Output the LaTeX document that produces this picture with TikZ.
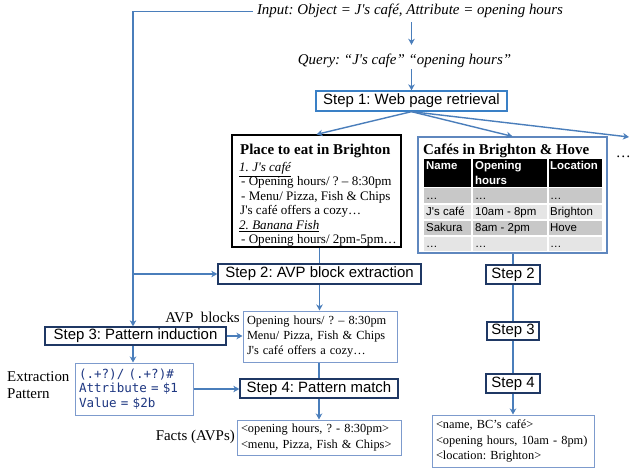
\documentclass[tikz,border=0pt]{standalone}
\usepackage{fontspec}
\setmainfont{Liberation Serif}
\setsansfont{Liberation Sans}
\setmonofont{DejaVu Sans Mono}
\usetikzlibrary{arrows.meta}
\definecolor{conn}{RGB}{74,126,187}
\definecolor{navy}{RGB}{31,56,100}
\definecolor{sblue}{RGB}{58,128,198}
\definecolor{lblue}{RGB}{125,155,205}
\definecolor{cblue}{RGB}{95,135,190}
\definecolor{monoc}{RGB}{31,56,130}
\definecolor{rowdark}{RGB}{200,200,200}
\definecolor{rowlight}{RGB}{229,229,229}
\newcommand{\fs}[2]{\fontsize{#1}{#2}\selectfont}
\begin{document}
\frenchspacing
\begin{tikzpicture}[x=1bp,y=-1bp,
  conn/.style={draw=conn, line width=1.4bp},
  arr/.style={conn, -{Stealth[length=6bp,width=6.5bp,inset=1.8bp]}},
  stepbox/.style={draw=navy, line width=1.3bp, fill=white, font=\sffamily\fs{15}{18}, inner sep=0, text height=10.8bp, text depth=3bp},
  lbox/.style={draw=lblue, line width=1bp, fill=white, align=left, inner xsep=4bp, inner ysep=0},
  txt/.style={inner sep=0, anchor=base west},
  hd/.style={txt, text=white, font=\sffamily\bfseries\fs{11.5}{12}},
  cell/.style={txt, font=\sffamily\fs{11.5}{12}},
  pl/.style={txt, font=\fs{13.1}{14}},
  lab/.style={inner sep=0, font=\fs{15}{15}}
]
\fill[white] (0,0) rectangle (631,468);
\useasboundingbox (0,0) rectangle (631,468);

% top texts
\node[inner sep=0, anchor=base, font=\itshape\fs{15}{15}, text height=11bp, text depth=4bp] (input) at (410,15) {Input: Object = J\textquotesingle s café, Attribute = opening hours};
\node[inner sep=0, anchor=base, font=\itshape\fs{15}{15}, text height=11bp, text depth=4bp] (query) at (404.5,65) {Query: “J\textquotesingle s cafe” “opening hours”};

% step boxes
\node[stepbox, draw=sblue, minimum width=191bp, minimum height=20bp] (s1) at (411.5,101) {Step 1: Web page retrieval};
\node[stepbox, minimum width=203bp, minimum height=20bp] (s2) at (319.5,274) {Step 2: AVP block extraction};
\node[stepbox, minimum width=181bp, minimum height=18bp] (s3) at (135.5,336) {Step 3: Pattern induction};
\node[stepbox, minimum width=158bp, minimum height=19bp] (s4) at (319,388.5) {Step 4: Pattern match};
\node[stepbox, minimum width=54bp, minimum height=19bp] (r2) at (513,274.5) {Step 2};
\node[stepbox, minimum width=52bp, minimum height=18bp] (r3) at (513,331) {Step 3};
\node[stepbox, minimum width=54bp, minimum height=19bp] (r4) at (513,383.5) {Step 4};

% Place box
\node[draw=black, line width=1.2bp, minimum width=169bp, minimum height=112bp, inner sep=0] (place) at (316.5,191) {};
\node[txt, font=\bfseries\fs{15}{15}] (pt) at (240,155) {Place to eat in Brighton};
\node[pl] (p1) at (239,172) {\underline{\textit{1. J\textquotesingle s café}}};
\node[pl] (p2) at (241,186) {- Opening hours/ ? – 8:30pm};
\node[pl] (p3) at (241,201) {- Menu/ Pizza, Fish \& Chips};
\node[pl] (p4) at (240,215) {J\textquotesingle s café offers a cozy…};
\node[pl] (p5) at (239,230) {\underline{\textit{2. Banana Fish}}};
\node[pl] (p6) at (241,244) {- Opening hours/ 2pm-5pm…};

% Cafes box
\node[draw=cblue, line width=1.2bp, minimum width=189bp, minimum height=116bp, inner sep=0] (cafes) at (512.5,195) {};
\node[txt, font=\bfseries\fs{15}{15}] (ct) at (423,155) {Cafés in Brighton \& Hove};
% table cells
\foreach \xa/\xb in {423/472,472/548,548/603}{
  \fill[black] (\xa+0.7,159) rectangle (\xb-0.7,187);
  \fill[rowdark] (\xa+0.7,188.2) rectangle (\xb-0.7,203.3);
  \fill[rowlight] (\xa+0.7,204.7) rectangle (\xb-0.7,219.3);
  \fill[rowdark] (\xa+0.7,220.7) rectangle (\xb-0.7,235.3);
  \fill[rowlight] (\xa+0.7,236.7) rectangle (\xb-0.7,251);
}
\node[hd] (h1) at (426,170) {Name};
\node[hd] (h2) at (475,170) {Opening};
\node[hd] (h2b) at (475,185) {hours};
\node[hd] (h3) at (550,170) {Location};
\node[cell] (c11) at (426,200) {…};
\node[cell] (c12) at (475,200) {…};
\node[cell] (c13) at (550,200) {…};
\node[cell] (c21) at (426,216) {J\textquotesingle s café};
\node[cell] (c22) at (475,216) {10am - 8pm};
\node[cell] (c23) at (550,216) {Brighton};
\node[cell] (c31) at (426,232) {Sakura};
\node[cell] (c32) at (475,232) {8am - 2pm};
\node[cell] (c33) at (550,232) {Hove};
\node[cell] (c41) at (426,247.5) {…};
\node[cell] (c42) at (475,247.5) {…};
\node[cell] (c43) at (550,247.5) {…};

\node[inner sep=0, anchor=base east, font=\fs{15}{15}] (dots) at (631,158) {…};
\coordinate (more) at (629,137);

% text boxes
\node[lbox, text width=146bp, minimum height=51bp, font=\fs{12.4}{14.8}] (avp) at (320,336.5) {Opening hours/ ? – 8:30pm\\Menu/ Pizza, Fish \& Chips\\J\textquotesingle s café offers a cozy…};
\node[lbox, text width=156bp, minimum height=35bp, font=\fs{12.4}{16.5}] (facts) at (319,437.5) {<opening hours, ? - 8:30pm>\\<menu, Pizza, Fish \& Chips>};
\node[lbox, text width=154bp, minimum height=52bp, font=\fs{12.4}{16}] (res) at (513,441) {<name, BC’s café>\\<opening hours, 10am - 8pm)\\<location: Brighton>};
\node[lbox, text width=110bp, minimum height=52bp, font=\ttfamily\fs{12.6}{14.5}, text=monoc] (ex) at (134,389) {(.+?)/ (.+?)\#\\Attribute = \$1\\Value = \$2b};

% labels
\node[lab, anchor=base east] (avpl) at (240,322) {AVP\ \ blocks};
\node[lab, anchor=base west] (exl1) at (7,381) {Extraction};
\node[lab, anchor=base west] (exl2) at (7,398) {Pattern};
\node[lab, anchor=base east] (fl) at (235,440) {Facts (AVPs)};

% connectors
\coordinate (lc) at (133,0);
\draw[arr, shorten <=3bp, shorten >=9bp] (s1.north |- input.south) -- (s1.north |- query.north);
\draw[arr] (s1.north |- query.south) -- (s1.north);
\draw[arr] ([xshift=-4bp]input.west) -- (input.west -| lc) -- (lc |- s3.north);
\draw[arr] (lc |- s2.west) -- (s2.west);
\draw[arr] (s1.south) -- (place.north);
\draw[arr] (s1.south) -- (cafes.north);
\draw[arr] (s1.south) -- (more);
\draw[conn] (place.south -| s2.north) -- (s2.north);
\draw[arr] (s2.south) -- (s2.south |- avp.north);
\draw[arr] (s3.east) -- (s3.east -| avp.west);
\draw[conn] (avp.south -| s4.north) -- (s4.north);
\draw[arr] (lc |- s3.south) -- (lc |- ex.north);
\draw[arr] (ex.east) -- (ex.east -| s4.west);
\draw[arr] (s4.south) -- (s4.south |- facts.north);
\draw[conn] (cafes.south -| r2.north) -- (r2.north);
\draw[conn] (r2.south) -- (r3.north);
\draw[conn] (r3.south) -- (r4.north);
\draw[arr] (r4.south) -- (res.north);
\end{tikzpicture}
\end{document}
